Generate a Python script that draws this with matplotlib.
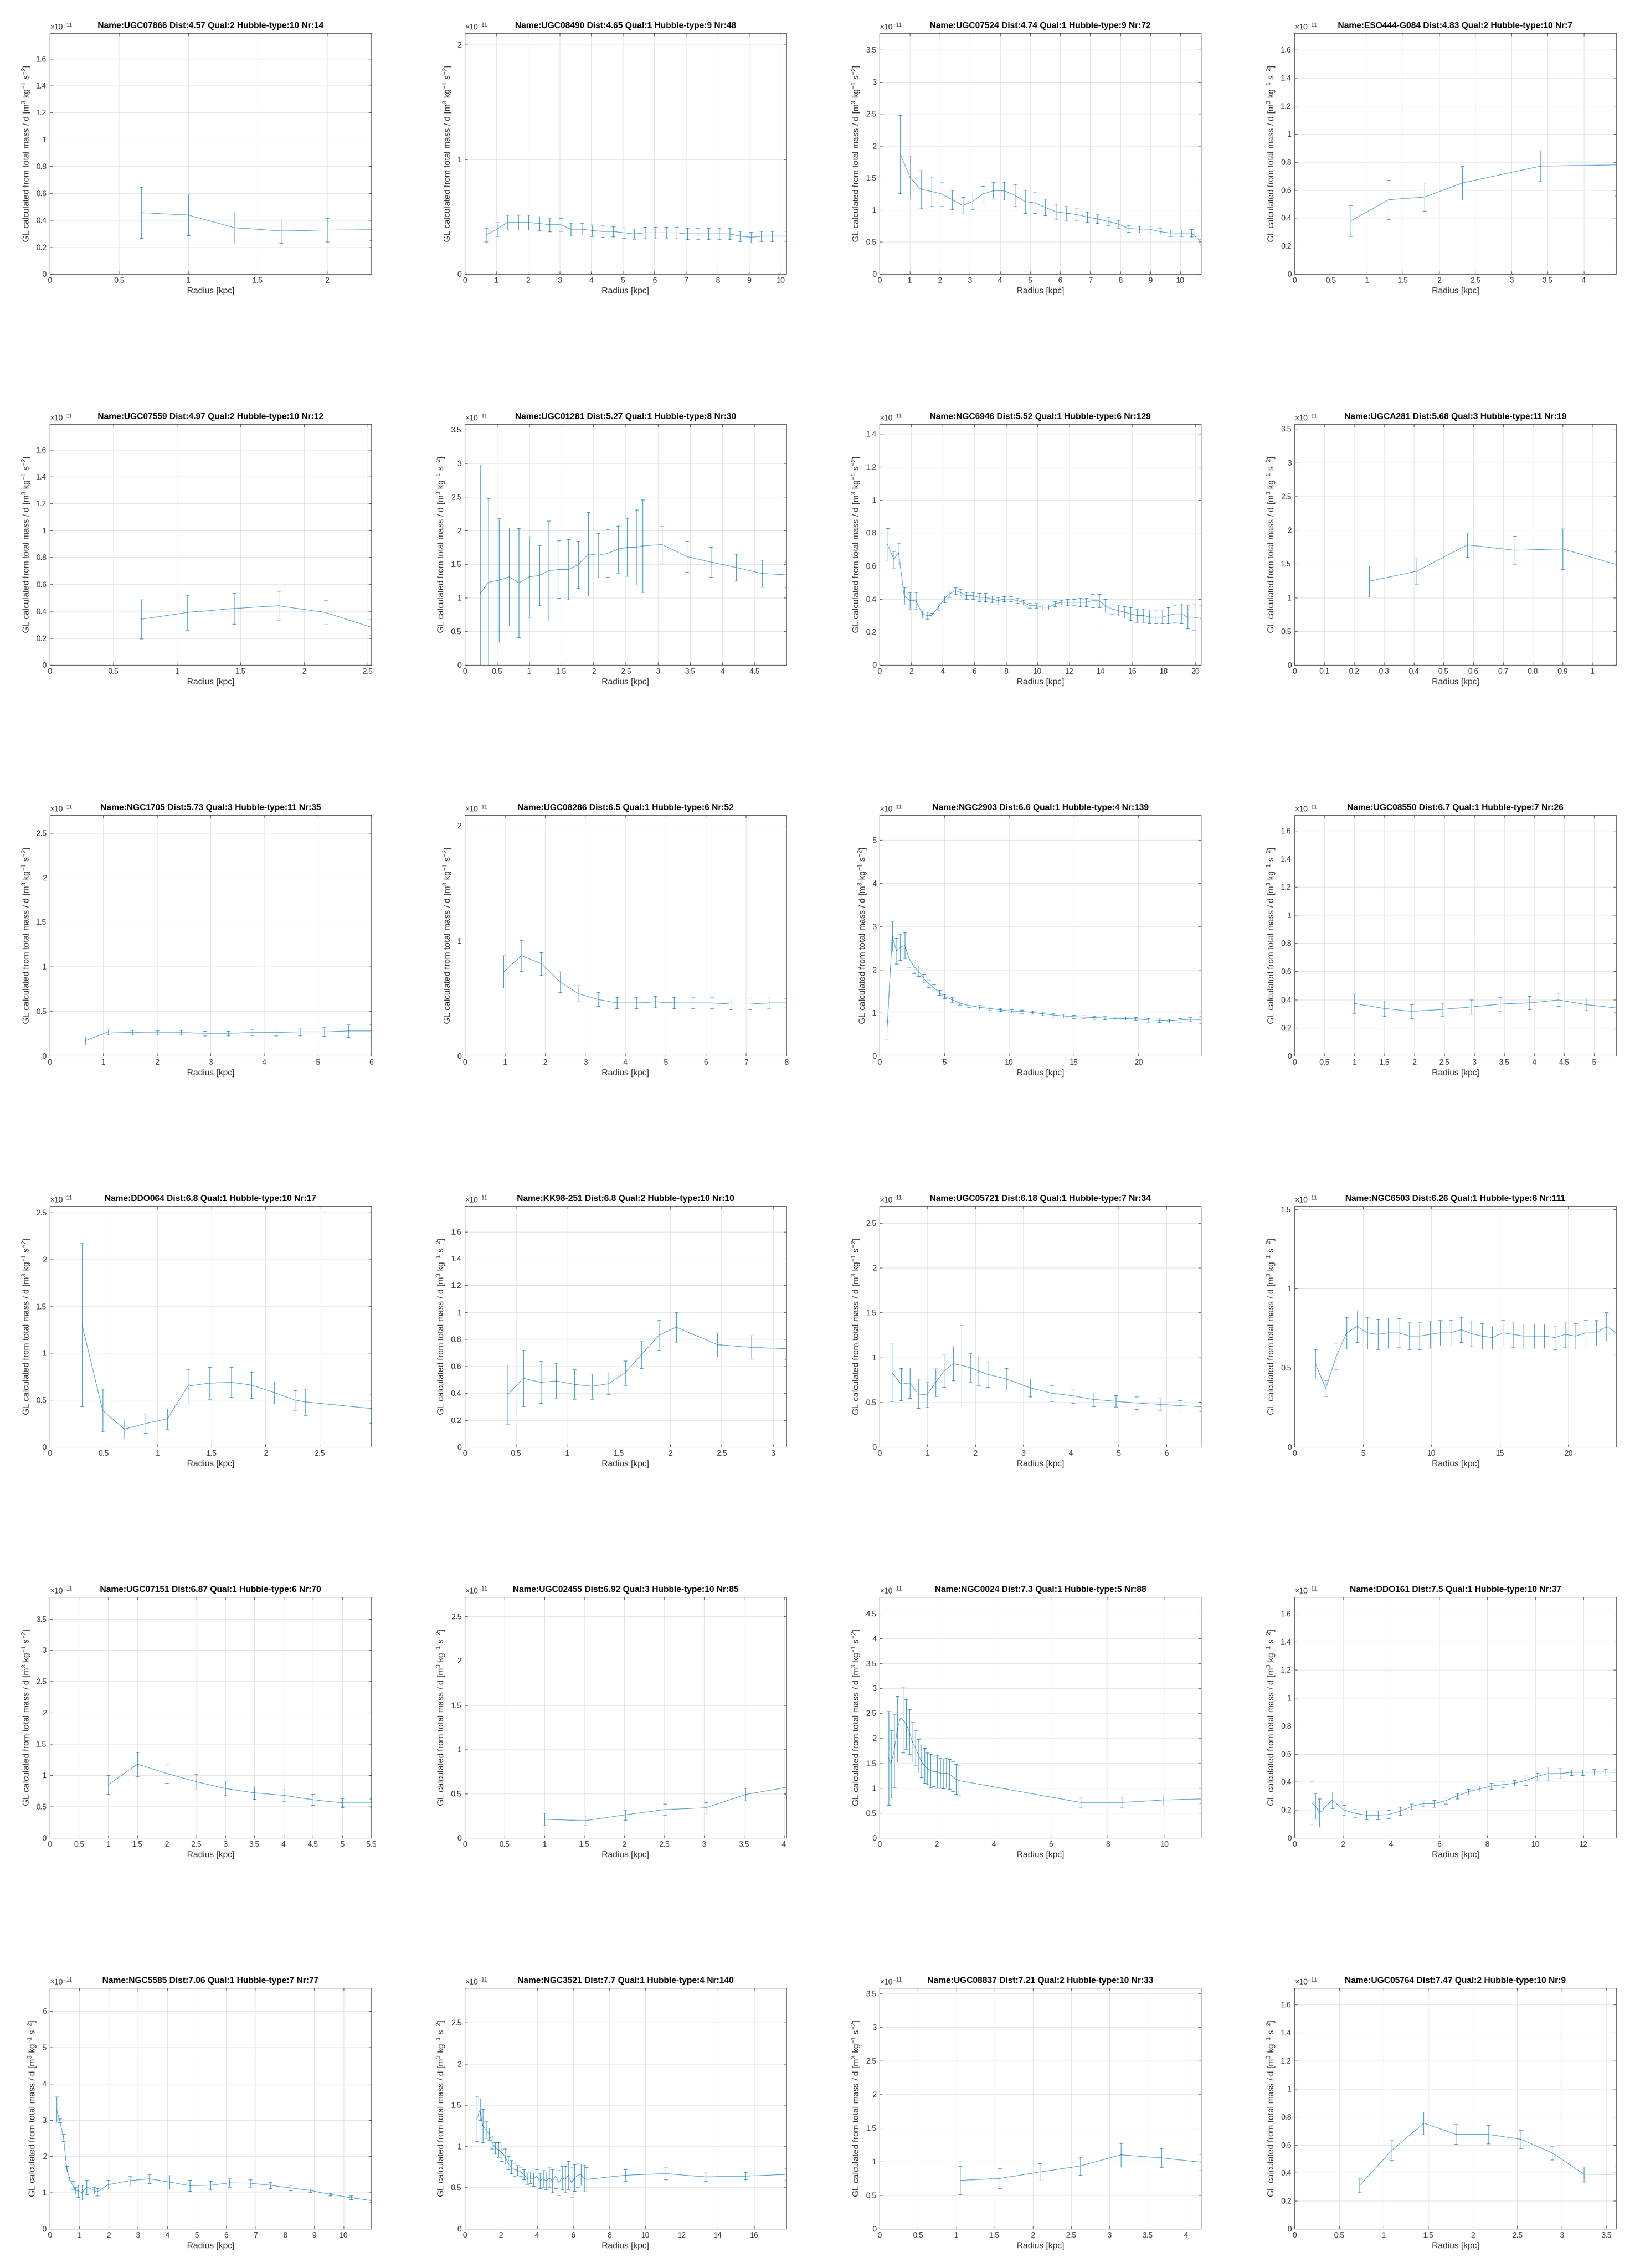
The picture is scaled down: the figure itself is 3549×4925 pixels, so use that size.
import matplotlib
matplotlib.use('Agg')
import matplotlib.pyplot as plt
from matplotlib.ticker import MultipleLocator, FuncFormatter

plt.rcParams['font.family'] = ['Liberation Sans', 'DejaVu Sans']
plt.rcParams['mathtext.fontset'] = 'custom'
plt.rcParams['mathtext.rm'] = 'Liberation Sans'
plt.rcParams['mathtext.it'] = 'Liberation Sans:italic'
plt.rcParams['mathtext.bf'] = 'Liberation Sans:bold'

# ---- galaxy metadata (reading order, 4 per row) ----
NAMES = ['UGC07866', 'UGC08490', 'UGC07524', 'ESO444-G084',
         'UGC07559', 'UGC01281', 'NGC6946', 'UGCA281',
         'NGC1705', 'UGC08286', 'NGC2903', 'UGC08550',
         'DDO064', 'KK98-251', 'UGC05721', 'NGC6503',
         'UGC07151', 'UGC02455', 'NGC0024', 'DDO161',
         'NGC5585', 'NGC3521', 'UGC08837', 'UGC05764']
DISTS = ['4.57', '4.65', '4.74', '4.83', '4.97', '5.27', '5.52', '5.68',
         '5.73', '6.5', '6.6', '6.7', '6.8', '6.8', '6.18', '6.26',
         '6.87', '6.92', '7.3', '7.5', '7.06', '7.7', '7.21', '7.47']
QUALS = [2, 1, 1, 2, 2, 1, 1, 3, 3, 1, 1, 1, 1, 2, 1, 1, 1, 3, 1, 1, 1, 1, 2, 2]
HTYPES = [10, 9, 9, 10, 10, 8, 6, 11, 11, 6, 4, 7, 10, 10, 7, 6, 6, 10, 5, 10, 7, 4, 10, 10]
NRS = [14, 48, 72, 7, 12, 30, 129, 19, 35, 52, 139, 26, 17, 10, 34, 111,
       70, 85, 88, 37, 77, 140, 33, 9]

# ---- radius [kpc], GL [1e-11], error [1e-11] ----
R_UGC07866 = [0.66, 1.00, 1.33, 1.67, 2.00, 2.32]
G_UGC07866 = [0.456, 0.438, 0.344, 0.320, 0.327, 0.329]
E_UGC07866 = [0.19, 0.15, 0.11, 0.092, 0.088, 0.08]

R_UGC08490 = [0.67, 1.02, 1.35, 1.69, 2.02, 2.36, 2.69, 3.03, 3.36, 3.70, 4.03, 4.36, 4.70, 5.03, 5.37,
              5.70, 6.04, 6.37, 6.71, 7.04, 7.37, 7.71, 8.04, 8.38, 8.71, 9.05, 9.38, 9.72, 10.17]
G_UGC08490 = [0.34, 0.39, 0.45, 0.45, 0.45, 0.44, 0.43, 0.43, 0.39, 0.39, 0.38, 0.37, 0.37, 0.36, 0.35,
              0.36, 0.36, 0.36, 0.36, 0.35, 0.35, 0.35, 0.35, 0.35, 0.33, 0.32, 0.33, 0.33, 0.33]
E_UGC08490 = [0.06, 0.06, 0.065, 0.065, 0.065, 0.06, 0.06, 0.055, 0.055, 0.05, 0.05, 0.05, 0.045, 0.045, 0.045,
              0.05, 0.05, 0.05, 0.05, 0.05, 0.05, 0.05, 0.05, 0.05, 0.045, 0.045, 0.045, 0.045, 0.045]

R_UGC07524 = [0.69, 1.02, 1.37, 1.72, 2.06, 2.41, 2.76, 3.08, 3.43, 3.78, 4.14, 4.49, 4.84, 5.16, 5.51,
              5.86, 6.20, 6.55, 6.90, 7.24, 7.59, 7.94, 8.28, 8.63, 8.98, 9.32, 9.67, 10.02, 10.36, 10.69]
G_UGC07524 = [1.87, 1.50, 1.32, 1.29, 1.25, 1.16, 1.07, 1.13, 1.25, 1.30, 1.30, 1.23, 1.13, 1.11, 1.04,
              0.97, 0.95, 0.93, 0.89, 0.86, 0.82, 0.78, 0.71, 0.70, 0.70, 0.66, 0.64, 0.64, 0.64, 0.50]
E_UGC07524 = [0.61, 0.33, 0.30, 0.23, 0.19, 0.15, 0.13, 0.12, 0.12, 0.13, 0.14, 0.17, 0.18, 0.16, 0.13,
              0.12, 0.11, 0.09, 0.08, 0.07, 0.065, 0.06, 0.055, 0.05, 0.05, 0.05, 0.05, 0.05, 0.06, 0.04]

R_ESO444 = [0.78, 1.30, 1.80, 2.32, 3.40, 4.45]
G_ESO444 = [0.38, 0.53, 0.55, 0.65, 0.77, 0.78]
E_ESO444 = [0.11, 0.14, 0.10, 0.12, 0.11, 0.22]

R_UGC07559 = [0.72, 1.08, 1.45, 1.80, 2.17, 2.53]
G_UGC07559 = [0.34, 0.39, 0.42, 0.44, 0.39, 0.28]
E_UGC07559 = [0.145, 0.13, 0.115, 0.105, 0.09, 0.06]

R_UGC01281 = [0.24, 0.37, 0.53, 0.69, 0.84, 1.00, 1.16, 1.30, 1.46, 1.61, 1.76, 1.92, 2.07, 2.22, 2.38,
              2.52, 2.67, 2.76, 3.06, 3.45, 3.82, 4.21, 4.61, 4.99]
G_UGC01281 = [1.06, 1.23, 1.26, 1.31, 1.22, 1.31, 1.33, 1.40, 1.42, 1.42, 1.49, 1.65, 1.63, 1.66, 1.72,
              1.75, 1.75, 1.77, 1.79, 1.61, 1.53, 1.45, 1.36, 1.34]
E_UGC01281 = [1.92, 1.25, 0.92, 0.73, 0.81, 0.60, 0.45, 0.74, 0.43, 0.45, 0.35, 0.62, 0.33, 0.35, 0.35,
              0.43, 0.56, 0.69, 0.27, 0.23, 0.22, 0.20, 0.20, 0.19]

R_NGC6946 = [0.5, 0.9, 1.2, 1.55, 1.9, 2.3, 2.7, 3.0, 3.3, 3.7, 4.1, 4.4, 4.8, 5.1, 5.5, 5.9, 6.3, 6.7,
             7.1, 7.5, 7.9, 8.3, 8.7, 9.1, 9.5, 9.9, 10.3, 10.7, 11.1, 11.5, 11.9, 12.3, 12.7, 13.1,
             13.5, 13.9, 14.3, 14.7, 15.1, 15.5, 15.9, 16.3, 16.7, 17.1, 17.5, 17.9, 18.3, 18.7,
             19.1, 19.5, 19.9, 20.37]
G_NGC6946 = [0.73, 0.64, 0.68, 0.42, 0.39, 0.39, 0.31, 0.30, 0.30, 0.35, 0.40, 0.43, 0.45, 0.44, 0.42,
             0.42, 0.41, 0.41, 0.40, 0.39, 0.40, 0.40, 0.39, 0.38, 0.36, 0.36, 0.35, 0.35, 0.37, 0.38,
             0.38, 0.38, 0.38, 0.38, 0.39, 0.39, 0.36, 0.34, 0.33, 0.32, 0.31, 0.30, 0.30, 0.29, 0.29,
             0.29, 0.30, 0.31, 0.31, 0.29, 0.29, 0.28]
E_NGC6946 = [0.10, 0.05, 0.06, 0.05, 0.05, 0.05, 0.02, 0.02, 0.015, 0.02, 0.02, 0.02, 0.02, 0.02, 0.02,
             0.02, 0.025, 0.025, 0.02, 0.02, 0.015, 0.015, 0.015, 0.015, 0.015, 0.015, 0.015, 0.015,
             0.015, 0.015, 0.02, 0.02, 0.025, 0.025, 0.04, 0.04, 0.04, 0.03, 0.03, 0.035, 0.04, 0.04,
             0.04, 0.04, 0.04, 0.04, 0.05, 0.05, 0.06, 0.07, 0.08, 0.08]

R_UGCA281 = [0.25, 0.41, 0.58, 0.74, 0.90, 1.08]
G_UGCA281 = [1.24, 1.39, 1.78, 1.70, 1.72, 1.49]
E_UGCA281 = [0.23, 0.19, 0.18, 0.21, 0.30, 0.19]

R_NGC1705 = [0.66, 1.09, 1.54, 2.00, 2.45, 2.90, 3.33, 3.78, 4.22, 4.67, 5.12, 5.57, 6.00]
G_NGC1705 = [0.17, 0.27, 0.265, 0.26, 0.263, 0.253, 0.253, 0.263, 0.265, 0.27, 0.27, 0.28, 0.28]
E_NGC1705 = [0.045, 0.035, 0.025, 0.025, 0.025, 0.025, 0.025, 0.03, 0.04, 0.045, 0.05, 0.07, 0.075]

R_UGC08286 = [0.97, 1.41, 1.91, 2.38, 2.83, 3.32, 3.79, 4.27, 4.74, 5.21, 5.68, 6.15, 6.62, 7.10, 7.57, 8.0]
G_UGC08286 = [0.73, 0.87, 0.80, 0.64, 0.54, 0.49, 0.46, 0.46, 0.47, 0.46, 0.46, 0.46, 0.45, 0.45, 0.46, 0.46]
E_UGC08286 = [0.14, 0.135, 0.10, 0.09, 0.07, 0.06, 0.05, 0.05, 0.05, 0.05, 0.05, 0.05, 0.045, 0.045, 0.045, 0.04]

R_NGC2903 = [0.57, 0.97, 1.3, 1.6, 1.94, 2.27, 2.67, 3.0, 3.4, 3.8, 4.2, 4.6, 5.0, 5.6, 6.2, 6.9, 7.7,
             8.5, 9.3, 10.2, 11.0, 11.8, 12.6, 13.4, 14.2, 15.0, 15.8, 16.6, 17.4, 18.2, 19.0, 19.8,
             20.8, 21.6, 22.4, 23.2, 24.0, 24.86]
G_NGC2903 = [0.60, 2.78, 2.43, 2.52, 2.56, 2.26, 2.06, 1.97, 1.80, 1.67, 1.58, 1.47, 1.38, 1.30, 1.22,
             1.17, 1.13, 1.10, 1.07, 1.04, 1.03, 1.01, 0.98, 0.95, 0.93, 0.91, 0.90, 0.89, 0.88, 0.87,
             0.87, 0.86, 0.83, 0.82, 0.81, 0.83, 0.85, 0.84]
E_NGC2903 = [0.20, 0.35, 0.30, 0.30, 0.30, 0.20, 0.15, 0.12, 0.10, 0.08, 0.07, 0.06, 0.05, 0.05, 0.04,
             0.04, 0.04, 0.04, 0.04, 0.04, 0.04, 0.04, 0.04, 0.04, 0.04, 0.04, 0.04, 0.04, 0.04, 0.04,
             0.04, 0.04, 0.04, 0.04, 0.04, 0.04, 0.05, 0.08]

R_UGC08550 = [0.99, 1.50, 1.95, 2.46, 2.95, 3.43, 3.92, 4.41, 4.88, 5.37]
G_UGC08550 = [0.373, 0.337, 0.317, 0.33, 0.348, 0.368, 0.377, 0.397, 0.364, 0.341]
E_UGC08550 = [0.07, 0.055, 0.05, 0.047, 0.05, 0.048, 0.047, 0.045, 0.04, 0.03]

R_DDO064 = [0.30, 0.49, 0.69, 0.89, 1.09, 1.28, 1.48, 1.68, 1.87, 2.08, 2.27, 2.37, 2.98]
G_DDO064 = [1.30, 0.39, 0.19, 0.25, 0.30, 0.65, 0.68, 0.69, 0.66, 0.58, 0.50, 0.48, 0.41]
E_DDO064 = [0.87, 0.23, 0.10, 0.105, 0.11, 0.18, 0.17, 0.16, 0.14, 0.12, 0.105, 0.14, 0.155]

R_KK98 = [0.42, 0.57, 0.74, 0.89, 1.07, 1.24, 1.40, 1.56, 1.72, 1.89, 2.06, 2.46, 2.79, 3.13]
G_KK98 = [0.39, 0.51, 0.48, 0.49, 0.465, 0.45, 0.47, 0.55, 0.685, 0.83, 0.89, 0.76, 0.74, 0.73]
E_KK98 = [0.22, 0.21, 0.155, 0.13, 0.11, 0.095, 0.08, 0.09, 0.10, 0.11, 0.11, 0.09, 0.088, 0.08]

R_UGC05721 = [0.26, 0.45, 0.63, 0.81, 0.99, 1.17, 1.35, 1.54, 1.71, 1.90, 2.07, 2.26, 2.65, 3.15, 3.60,
              4.05, 4.48, 4.94, 5.38, 5.87, 6.28, 6.73]
G_UGC05721 = [0.83, 0.70, 0.715, 0.59, 0.58, 0.72, 0.85, 0.93, 0.91, 0.885, 0.85, 0.81, 0.76, 0.66, 0.60,
              0.57, 0.53, 0.51, 0.49, 0.475, 0.46, 0.45]
E_UGC05721 = [0.32, 0.18, 0.17, 0.16, 0.14, 0.155, 0.18, 0.19, 0.45, 0.165, 0.16, 0.14, 0.12, 0.10, 0.09,
              0.08, 0.075, 0.065, 0.07, 0.065, 0.06, 0.055]

R_NGC6503 = [1.52, 2.28, 3.04, 3.80, 4.56, 5.32, 6.08, 6.84, 7.60, 8.37, 9.13, 9.89, 10.65, 11.41, 12.17,
             12.93, 13.69, 14.45, 15.21, 15.97, 16.73, 17.49, 18.25, 19.01, 19.76, 20.52, 21.28, 22.04,
             22.80, 23.50]
G_NGC6503 = [0.525, 0.37, 0.57, 0.72, 0.76, 0.72, 0.71, 0.72, 0.72, 0.70, 0.70, 0.71, 0.72, 0.72, 0.74,
             0.715, 0.70, 0.69, 0.72, 0.71, 0.70, 0.70, 0.70, 0.69, 0.71, 0.70, 0.72, 0.72, 0.76, 0.72]
E_NGC6503 = [0.09, 0.05, 0.08, 0.10, 0.10, 0.10, 0.095, 0.095, 0.09, 0.085, 0.085, 0.085, 0.08, 0.08, 0.08,
             0.08, 0.08, 0.07, 0.08, 0.08, 0.075, 0.075, 0.075, 0.075, 0.08, 0.08, 0.08, 0.08, 0.09, 0.14]

R_UGC07151 = [1.0, 1.5, 2.0, 2.5, 3.0, 3.5, 4.0, 4.5, 5.0, 5.5]
G_UGC07151 = [0.85, 1.18, 1.03, 0.90, 0.79, 0.72, 0.68, 0.61, 0.56, 0.56]
E_UGC07151 = [0.15, 0.19, 0.155, 0.125, 0.11, 0.10, 0.09, 0.09, 0.075, 0.065]

R_UGC02455 = [1.00, 1.51, 2.01, 2.51, 3.02, 3.52, 4.03]
G_UGC02455 = [0.21, 0.195, 0.26, 0.32, 0.34, 0.49, 0.57]
E_UGC02455 = [0.07, 0.055, 0.055, 0.065, 0.06, 0.07, 0.075]

R_NGC0024 = [0.31, 0.40, 0.51, 0.62, 0.73, 0.82, 0.93, 1.04, 1.15, 1.26, 1.37, 1.46, 1.57, 1.68, 1.79,
             1.90, 2.01, 2.12, 2.23, 2.34, 2.45, 2.56, 2.67, 2.78, 7.06, 8.50, 9.93, 11.28]
G_NGC0024 = [1.60, 1.48, 1.75, 2.18, 2.41, 2.37, 2.28, 2.13, 1.92, 1.80, 1.65, 1.54, 1.45, 1.39, 1.35,
             1.33, 1.33, 1.30, 1.29, 1.30, 1.28, 1.23, 1.18, 1.15, 0.71, 0.71, 0.76, 0.78]
E_NGC0024 = [0.94, 0.68, 0.73, 0.66, 0.66, 0.66, 0.50, 0.45, 0.40, 0.35, 0.33, 0.33, 0.35, 0.32, 0.33,
             0.30, 0.33, 0.30, 0.30, 0.30, 0.30, 0.30, 0.30, 0.30, 0.09, 0.09, 0.11, 0.09]

R_DDO161 = [0.71, 0.86, 1.04, 1.56, 2.05, 2.51, 2.98, 3.46, 3.91, 4.39, 4.86, 5.34, 5.79, 6.27, 6.75,
            7.22, 7.70, 8.17, 8.65, 9.12, 9.60, 10.08, 10.55, 11.03, 11.50, 11.96, 12.43, 12.91, 13.36]
G_DDO161 = [0.25, 0.23, 0.18, 0.27, 0.20, 0.175, 0.163, 0.163, 0.167, 0.19, 0.225, 0.245, 0.245, 0.265,
            0.30, 0.33, 0.35, 0.37, 0.38, 0.39, 0.41, 0.44, 0.46, 0.46, 0.468, 0.468, 0.47, 0.47, 0.468]
E_DDO161 = [0.15, 0.09, 0.10, 0.06, 0.035, 0.03, 0.03, 0.03, 0.03, 0.03, 0.02, 0.02, 0.025, 0.02, 0.02,
            0.02, 0.02, 0.02, 0.02, 0.02, 0.035, 0.025, 0.045, 0.035, 0.02, 0.02, 0.02, 0.02, 0.025]

R_NGC5585 = [0.23, 0.34, 0.47, 0.58, 0.68, 0.78, 0.88, 0.97, 1.10, 1.26, 1.37, 1.50, 1.61, 1.99, 2.73,
             3.38, 4.08, 4.77, 5.47, 6.12, 6.82, 7.51, 8.19, 8.86, 9.55, 10.25, 10.94]
G_NGC5585 = [3.30, 2.98, 2.51, 1.65, 1.38, 1.20, 1.06, 1.04, 1.00, 1.15, 1.12, 1.06, 1.02, 1.22, 1.33,
             1.38, 1.29, 1.19, 1.20, 1.27, 1.26, 1.20, 1.13, 1.06, 0.95, 0.86, 0.78]
E_NGC5585 = [0.35, 0.05, 0.10, 0.08, 0.05, 0.12, 0.10, 0.16, 0.20, 0.20, 0.15, 0.10, 0.10, 0.12, 0.12,
             0.12, 0.18, 0.15, 0.12, 0.11, 0.10, 0.08, 0.08, 0.05, 0.03, 0.05, 0.04]

R_NGC3521 = [0.67, 0.85, 0.99, 1.17, 1.35, 1.52, 1.70, 1.87, 2.05, 2.22, 2.40, 2.57, 2.75, 2.92, 3.10,
             3.27, 3.45, 3.63, 3.80, 3.98, 4.15, 4.33, 4.50, 4.68, 4.85, 5.03, 5.21, 5.38, 5.56, 5.73,
             5.91, 6.08, 6.26, 6.43, 6.61, 6.73, 8.86, 11.11, 13.33, 15.53, 17.78]
G_NGC3521 = [1.33, 1.45, 1.25, 1.20, 1.15, 1.05, 0.98, 0.96, 0.92, 0.88, 0.80, 0.75, 0.72, 0.71, 0.69,
             0.66, 0.61, 0.62, 0.60, 0.64, 0.58, 0.61, 0.58, 0.62, 0.58, 0.64, 0.56, 0.62, 0.60, 0.65,
             0.56, 0.62, 0.65, 0.66, 0.61, 0.60, 0.65, 0.67, 0.63, 0.64, 0.66]
E_NGC3521 = [0.27, 0.13, 0.20, 0.10, 0.07, 0.08, 0.07, 0.09, 0.10, 0.09, 0.08, 0.08, 0.08, 0.06, 0.05,
             0.06, 0.07, 0.07, 0.08, 0.08, 0.09, 0.10, 0.10, 0.12, 0.14, 0.15, 0.15, 0.14, 0.16, 0.17,
             0.18, 0.16, 0.15, 0.13, 0.16, 0.15, 0.07, 0.07, 0.05, 0.045, 0.07]

R_UGC08837 = [1.05, 1.57, 2.09, 2.62, 3.15, 3.68, 4.20]
G_UGC08837 = [0.72, 0.75, 0.845, 0.935, 1.10, 1.055, 0.99]
E_UGC08837 = [0.21, 0.15, 0.125, 0.135, 0.175, 0.14, 0.12]

R_UGC05764 = [0.73, 1.09, 1.45, 1.81, 2.17, 2.54, 2.89, 3.25, 3.61]
G_UGC05764 = [0.31, 0.56, 0.755, 0.675, 0.675, 0.64, 0.543, 0.39, 0.39]
E_UGC05764 = [0.05, 0.07, 0.08, 0.07, 0.065, 0.065, 0.05, 0.055, 0.06]

# upper y limit (1e-11) and tick spacing of each panel
Y_TOPS = [1.79, 2.10, 3.76, 1.72, 1.79, 3.58, 1.46, 3.57, 2.70, 2.09, 5.58, 1.71,
          2.57, 1.79, 2.69, 1.52, 3.85, 2.72, 4.83, 1.72, 6.64, 2.92, 3.58, 1.72]
Y_STEPS = [0.2, 1, 0.5, 0.2, 0.2, 0.5, 0.2, 0.5, 0.5, 1, 1, 0.2,
           0.5, 0.2, 0.5, 0.5, 0.5, 0.5, 0.5, 0.2, 1, 0.5, 0.5, 0.2]
X_STEPS = [0.5, 1, 1, 0.5, 0.5, 0.5, 2, 0.1, 1, 1, 5, 0.5,
           0.5, 0.5, 1, 5, 0.5, 0.5, 2, 2, 1, 2, 0.5, 0.5]

SERIES = [
    (R_UGC07866, G_UGC07866, E_UGC07866), (R_UGC08490, G_UGC08490, E_UGC08490),
    (R_UGC07524, G_UGC07524, E_UGC07524), (R_ESO444, G_ESO444, E_ESO444),
    (R_UGC07559, G_UGC07559, E_UGC07559), (R_UGC01281, G_UGC01281, E_UGC01281),
    (R_NGC6946, G_NGC6946, E_NGC6946), (R_UGCA281, G_UGCA281, E_UGCA281),
    (R_NGC1705, G_NGC1705, E_NGC1705), (R_UGC08286, G_UGC08286, E_UGC08286),
    (R_NGC2903, G_NGC2903, E_NGC2903), (R_UGC08550, G_UGC08550, E_UGC08550),
    (R_DDO064, G_DDO064, E_DDO064), (R_KK98, G_KK98, E_KK98),
    (R_UGC05721, G_UGC05721, E_UGC05721), (R_NGC6503, G_NGC6503, E_NGC6503),
    (R_UGC07151, G_UGC07151, E_UGC07151), (R_UGC02455, G_UGC02455, E_UGC02455),
    (R_NGC0024, G_NGC0024, E_NGC0024), (R_DDO161, G_DDO161, E_DDO161),
    (R_NGC5585, G_NGC5585, E_NGC5585), (R_NGC3521, G_NGC3521, E_NGC3521),
    (R_UGC08837, G_UGC08837, E_UGC08837), (R_UGC05764, G_UGC05764, E_UGC05764),
]

LINE_BLUE = '#0072BD'
AX_GREY = '#262626'
W, H = 3549, 4925

fig = plt.figure(figsize=(W / 100, H / 100), dpi=100)
fig.patch.set_facecolor('white')

fmt = FuncFormatter(lambda v, pos: '%g' % round(v, 6))

for i, (r, g, e) in enumerate(SERIES):
    row, col = divmod(i, 4)
    left = (108 + 900.7 * col) / W
    top_px = 72 + 849 * row
    bottom = (H - top_px - 523) / H
    ax = fig.add_axes([left, bottom, 698 / W, 523 / H])

    ax.errorbar(r, g, yerr=e, color=LINE_BLUE, lw=0.6, elinewidth=0.6,
                capsize=3, capthick=0.6, zorder=3)

    ax.set_xlim(0, max(r))
    ax.set_ylim(0, Y_TOPS[i])
    ax.xaxis.set_major_locator(MultipleLocator(X_STEPS[i]))
    ax.yaxis.set_major_locator(MultipleLocator(Y_STEPS[i]))
    ax.xaxis.set_major_formatter(fmt)
    ax.yaxis.set_major_formatter(fmt)

    ax.grid(True, color='#dcdcdc', lw=0.6, zorder=0)
    ax.set_axisbelow(True)
    for s in ax.spines.values():
        s.set_color(AX_GREY)
        s.set_linewidth(0.6)
    ax.tick_params(direction='in', length=4, width=0.6, top=True, right=True,
                   colors=AX_GREY, labelsize=12, labelcolor='#333333', pad=5)

    ax.set_xlabel('Radius [kpc]', fontsize=13.5, color='#333333', labelpad=5)
    ax.set_ylabel(r'GL calculated from total mass / d [m$^3$ kg$^{-1}$ s$^{-2}$]',
                  fontsize=13.5, color='#333333', labelpad=6)
    ax.set_title('Name:%s Dist:%s Qual:%d Hubble-type:%d Nr:%d'
                 % (NAMES[i], DISTS[i], QUALS[i], HTYPES[i], NRS[i]),
                 fontsize=13.5, fontweight='bold', color='black', pad=8)
    ax.text(0, 1.008, r'$\times10^{-11}$', transform=ax.transAxes,
            ha='left', va='bottom', fontsize=12, color='#333333')

fig.savefig('out.png', dpi=100, facecolor='white')
